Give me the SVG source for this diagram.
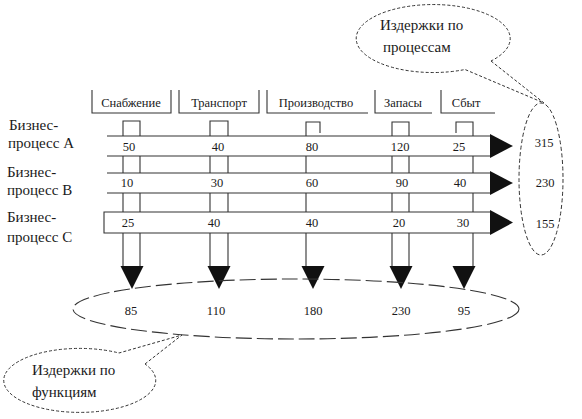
<svg xmlns="http://www.w3.org/2000/svg" width="582" height="419" viewBox="0 0 582 419" font-family="'Liberation Serif', 'DejaVu Serif', serif">
<defs>
<style>
text{font-family:'Liberation Serif','DejaVu Serif',serif;fill:#1a1a1a}
.hd{font-size:12.5px;text-anchor:middle}
.lb{font-size:15px}
.v{font-size:12.5px;text-anchor:middle}
.ln{fill:none;stroke:#333;stroke-width:1.1}
.band{fill:#fff;stroke:none}
.ah{fill:#111;stroke:none}
.dash{fill:none;stroke:#333;stroke-width:1;stroke-dasharray:4,2.5}
.dlong{fill:none;stroke:#333;stroke-width:1.1;stroke-dasharray:16,5}
.call{fill:#fff;stroke:#333;stroke-width:1;stroke-dasharray:3,2}
</style>
</defs>
<rect width="582" height="419" fill="#fff"/>

<g id="header-supply"><path class="ln" d="M92,90 V113 H171 V90"/><text class="hd" x="131" y="107">Снабжение</text></g>
<g id="header-transport"><path class="ln" d="M179,90 V113 H259 V90"/><text class="hd" x="219" y="107">Транспорт</text></g>
<g id="header-production"><path class="ln" d="M267,90 V113 H368"/><text class="hd" x="316" y="107">Производство</text></g>
<g id="header-stock"><path class="ln" d="M375,90 V113 H432"/><text class="hd" x="403" y="107">Запасы</text></g>
<g id="header-sales"><path class="ln" d="M441,90 V113 H495"/><text class="hd" x="466" y="107">Сбыт</text></g>

<g id="label-a"><text class="lb" x="9" y="130">Бизнес-</text><text class="lb" x="8" y="148">процесс А</text></g>
<g id="label-b"><text class="lb" x="7" y="177">Бизнес-</text><text class="lb" x="7" y="195">процесс В</text></g>
<g id="label-c"><text class="lb" x="7" y="222">Бизнес-</text><text class="lb" x="7" y="242">процесс С</text></g>

<g id="connectors">
<path class="ln" d="M123,266 V121 H140 V266"/>
<path class="ln" d="M210,266 V121 H228 V266"/>
<path class="ln" d="M306,266 V122 H320 V133"/>
<path class="ln" d="M392,266 V122 H409 V266"/>
<path class="ln" d="M456,133 V122 H473 V266"/>
<polygon class="ah" points="120.5,266 143.5,266 132,289"/>
<polygon class="ah" points="207.5,266 230.5,266 219,289"/>
<polygon class="ah" points="301.5,266 324.5,266 313,289"/>
<polygon class="ah" points="389.5,266 412.5,266 401,289"/>
<polygon class="ah" points="452.5,266 475.5,266 464,289"/>

<rect class="band" x="107" y="136" width="383" height="20"/>
<path class="ln" d="M107,136 H490 M107,156 H490"/>
<polygon class="ah" points="490,134 490,158 513,146"/>
<rect class="band" x="107" y="173" width="383" height="20"/>
<path class="ln" d="M107,173 H490 M107,193 H490"/>
<polygon class="ah" points="490,171 490,195 513,183"/>
<path class="band" d="M490,212 H104 V233 H490 Z"/>
<path class="ln" d="M490,212 H104 V233 H490"/>
<polygon class="ah" points="490,210 490,235 513,222.5"/>
</g>

<g id="values-a">
<text class="v" x="129" y="151">50</text><text class="v" x="218" y="151">40</text><text class="v" x="312" y="151">80</text><text class="v" x="400" y="151">120</text><text class="v" x="459" y="151">25</text>
</g>
<g id="values-b">
<text class="v" x="127" y="187">10</text><text class="v" x="217" y="187">30</text><text class="v" x="312" y="187">60</text><text class="v" x="402" y="187">90</text><text class="v" x="460" y="187">40</text>
</g>
<g id="values-c">
<text class="v" x="128" y="227">25</text><text class="v" x="214" y="227">40</text><text class="v" x="312" y="227">40</text><text class="v" x="399" y="227">20</text><text class="v" x="463" y="227">30</text>
</g>

<g id="process-totals">
<ellipse class="dash" cx="541" cy="179" rx="22" ry="76"/>
<text class="v" x="544" y="147">315</text>
<text class="v" x="545" y="187">230</text>
<text class="v" x="545" y="228">155</text>
</g>

<g id="function-totals">
<ellipse class="dlong" cx="296" cy="309" rx="223" ry="30"/>
<text class="v" x="131" y="315">85</text>
<text class="v" x="216" y="315">110</text>
<text class="v" x="313" y="315">180</text>
<text class="v" x="401" y="315">230</text>
<text class="v" x="464" y="315">95</text>
</g>

<g id="callout-processes">
<path class="call" d="M491,61 L544,103 L465,69.5 A77,34 0 1 1 491,61 Z"/>
<text class="lb" x="380" y="30">Издержки по</text>
<text class="lb" x="383" y="52">процессам</text>
</g>

<g id="callout-functions">
<path class="call" d="M145,364 L182,335 L119,353 A76,32 0 1 0 145,364 Z"/>
<text class="lb" x="32" y="375">Издержки по</text>
<text class="lb" x="32" y="397">функциям</text>
</g>
</svg>
